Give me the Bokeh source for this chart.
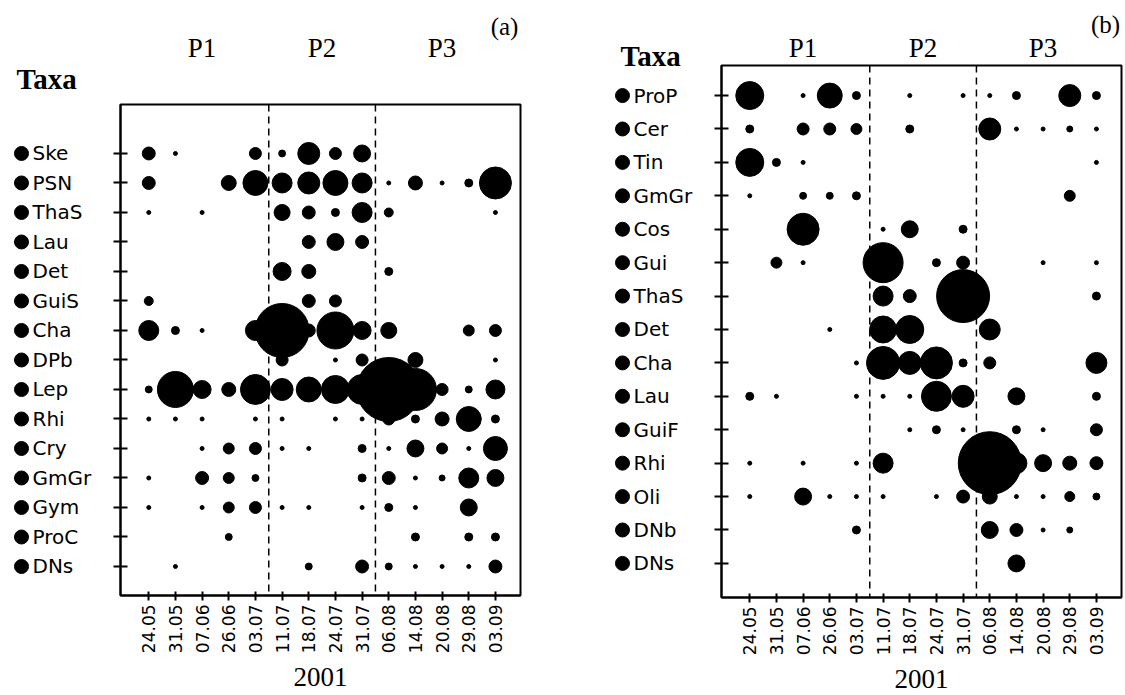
import math
from bokeh.plotting import figure
from bokeh.models import FixedTicker, Span, ColumnDataSource, Range1d
from bokeh.layouts import row, column
from bokeh.core.properties import value
from bokeh.embed import file_html
from bokeh.resources import INLINE

# ---------------- data ----------------
dates = ["24.05", "31.05", "07.06", "26.06", "03.07", "11.07", "18.07",
         "24.07", "31.07", "06.08", "14.08", "20.08", "29.08", "03.09"]
year_label = "2001"
periods = ["P1", "P2", "P3"]
period_last_date = [5, 9, 14]          # last sampling date (1-based) of each period

taxa_a = ["Ske", "PSN", "ThaS", "Lau", "Det", "GuiS", "Cha", "DPb",
          "Lep", "Rhi", "Cry", "GmGr", "Gym", "ProC", "DNs"]
values_a = [
    [42, 4, 0, 0, 36, 12, 121, 36, 72, 0, 0, 0, 0, 0],            # Ske
    [42, 0, 0, 56, 156, 100, 121, 156, 100, 4, 49, 4, 16, 256],   # PSN
    [4, 0, 4, 0, 0, 64, 42, 16, 100, 20, 0, 0, 0, 4],             # ThaS
    [0, 0, 0, 0, 0, 0, 42, 72, 42, 0, 0, 0, 0, 0],                # Lau
    [0, 0, 0, 0, 0, 81, 49, 0, 0, 16, 0, 0, 0, 0],                # Det
    [20, 0, 0, 0, 0, 0, 42, 36, 0, 0, 0, 0, 0, 0],                # GuiS
    [100, 16, 4, 0, 100, 729, 42, 342, 81, 64, 0, 0, 30, 36],     # Cha
    [0, 0, 0, 0, 0, 36, 0, 4, 36, 0, 56, 0, 0, 4],                # DPb
    [12, 324, 81, 49, 225, 121, 156, 196, 225, 1024, 441, 36, 12, 90],  # Lep
    [4, 4, 4, 0, 4, 4, 0, 4, 4, 36, 16, 49, 156, 16],             # Rhi
    [0, 0, 4, 30, 36, 4, 4, 0, 16, 4, 72, 30, 4, 144],            # Cry
    [4, 0, 42, 30, 12, 0, 0, 0, 16, 42, 4, 9, 100, 72],           # GmGr
    [4, 0, 4, 30, 36, 4, 4, 0, 4, 16, 4, 0, 72, 0],               # Gym
    [0, 0, 0, 12, 0, 0, 0, 0, 0, 0, 16, 0, 16, 16],               # ProC
    [0, 4, 0, 0, 0, 0, 12, 0, 42, 12, 4, 4, 4, 42],               # DNs
]

taxa_b = ["ProP", "Cer", "Tin", "GmGr", "Cos", "Gui", "ThaS", "Det",
          "Cha", "Lau", "GuiF", "Rhi", "Oli", "DNb", "DNs"]
values_b = [
    [196, 0, 4, 156, 16, 0, 4, 0, 4, 4, 16, 0, 121, 16],          # ProP
    [16, 0, 36, 36, 30, 0, 16, 0, 0, 121, 4, 4, 9, 4],            # Cer
    [196, 16, 4, 0, 0, 0, 0, 0, 0, 0, 0, 0, 0, 4],                # Tin
    [4, 0, 12, 12, 16, 0, 0, 0, 0, 0, 0, 0, 30, 0],               # GmGr
    [0, 0, 256, 0, 0, 4, 72, 0, 16, 0, 0, 0, 0, 0],               # Cos
    [0, 30, 4, 0, 0, 400, 0, 16, 42, 0, 0, 4, 0, 4],              # Gui
    [0, 0, 0, 0, 0, 100, 42, 0, 702, 0, 0, 0, 0, 16],             # ThaS
    [0, 0, 0, 4, 0, 182, 196, 0, 0, 110, 0, 0, 0, 0],             # Det
    [0, 0, 0, 0, 4, 272, 132, 256, 16, 36, 0, 0, 0, 110],         # Cha
    [16, 4, 0, 0, 4, 4, 4, 225, 121, 0, 72, 0, 0, 16],            # Lau
    [0, 0, 0, 0, 0, 0, 4, 16, 4, 0, 16, 4, 0, 36],                # GuiF
    [4, 0, 4, 0, 4, 100, 0, 0, 0, 992, 110, 72, 49, 42],          # Rhi
    [4, 0, 72, 4, 4, 4, 0, 4, 42, 56, 4, 4, 25, 12],              # Oli
    [0, 0, 0, 0, 16, 0, 0, 0, 0, 72, 42, 4, 9, 0],                # DNb
    [0, 0, 0, 0, 0, 0, 0, 0, 0, 0, 72, 0, 0, 0],                  # DNs
]

SERIF = "Liberation Serif"
SANS = "DejaVu Sans"
H = 695
AX_BORDER = 14          # room for the left-axis ticks inside the main figure
FRAME_W = 400
X0, X1 = -0.06, 14.94


def blank(width, height, xr, yr, bl=0, br=0):
    f = figure(width=width, height=height, x_range=xr, y_range=yr, title=None,
               output_backend="svg", toolbar_location=None,
               x_axis_location=None, y_axis_location=None,
               min_border_left=bl, min_border_right=br, min_border_top=0, min_border_bottom=0)
    f.xgrid.visible = False
    f.ygrid.visible = False
    f.outline_line_color = None
    f.background_fill_color = "white"
    f.border_fill_color = "white"
    return f


def make_panel(taxa, values, tag, lab_w, frame_top, frame_bottom, right_border,
               y_range, taxa_y, tag_y, period_y, taxa_dx):
    n = len(taxa)
    ux = FRAME_W / (X1 - X0)
    y0, y1 = y_range
    uy = (frame_bottom - frame_top) / (y1 - y0)

    # ---- main bubble plot ----
    xs, ys, sizes = [], [], []
    for i, rowvals in enumerate(values):
        for j, v in enumerate(rowvals):
            if v > 0:
                xs.append(j + 1)
                ys.append(n - i)
                sizes.append(2.0 * math.sqrt(v))
    src = ColumnDataSource(dict(x=xs, y=ys, s=sizes))

    top_h = frame_top - 2
    main_w = AX_BORDER + FRAME_W + right_border
    p = figure(width=main_w, height=H - top_h, x_range=(X0, X1), y_range=y_range, title=None,
               output_backend="svg", toolbar_location=None,
               min_border_left=AX_BORDER, min_border_right=right_border,
               min_border_top=2, min_border_bottom=H - frame_bottom)
    p.xgrid.visible = False
    p.ygrid.visible = False
    p.outline_line_color = "black"
    p.outline_line_width = 2
    p.background_fill_color = "white"
    p.border_fill_color = "white"

    xa = p.xaxis[0]
    xa.ticker = FixedTicker(ticks=list(range(1, len(dates) + 1)))
    xa.major_label_overrides = {i + 1: d for i, d in enumerate(dates)}
    xa.major_label_orientation = math.pi / 2
    xa.major_label_text_font = SANS
    xa.major_label_text_font_size = "17px"
    xa.major_label_text_color = "black"
    xa.major_label_standoff = 4
    xa.major_tick_in = 4
    xa.major_tick_out = 5
    xa.minor_tick_line_color = None
    xa.axis_line_width = 2
    xa.major_tick_line_width = 2
    xa.axis_label = year_label
    xa.axis_label_text_font = SERIF
    xa.axis_label_text_font_size = "27px"
    xa.axis_label_text_font_style = "normal"
    xa.axis_label_text_color = "black"
    xa.axis_label_standoff = 12

    ya = p.yaxis[0]
    ya.ticker = FixedTicker(ticks=list(range(1, n + 1)))
    ya.major_label_text_color = None
    ya.major_label_standoff = 0
    ya.major_tick_in = 7
    ya.major_tick_out = 7
    ya.minor_tick_line_color = None
    ya.axis_line_width = 2
    ya.major_tick_line_width = 2

    for last in period_last_date[:-1]:
        p.add_layout(Span(location=last + 0.5, dimension="height", line_color="black",
                          line_width=1.5, line_dash="7 5"))

    p.scatter("x", "y", size="s", source=src, marker="circle",
              fill_color="black", line_color="black")

    # ---- label column on the left (same y scale as the main plot) ----
    lab = blank(lab_w, H, Range1d(0, lab_w),
                Range1d(y0 - (H - frame_bottom) / uy, y1 + frame_top / uy))
    fl = lab_w + AX_BORDER              # frame left edge in label-column pixels
    ty = [n - i for i in range(n)]
    lab.scatter(x=[fl - 99] * n, y=ty, size=14, marker="circle",
                fill_color="black", line_color="black")
    lab.text(x=[fl - 88] * n, y=ty, text=taxa, text_font=value(SANS),
             text_font_size=value("20px"), text_align="left", text_baseline="middle",
             text_color="black")
    lab.text(x=[fl + taxa_dx], y=[y1 + (frame_top - taxa_y) / uy], text=["Taxa"],
             text_font=value(SERIF), text_font_size=value("29px"), text_font_style="bold",
             text_align="left", text_baseline="middle", text_color="black")

    # ---- header strip above the main plot (frame aligned with the main plot) ----
    top = blank(main_w, top_h, Range1d(X0, X1), Range1d(top_h, 0),
                bl=AX_BORDER, br=right_border)
    centers, start = [], 1
    for last in period_last_date:
        centers.append((start + last) / 2.0)
        start = last + 1
    top.text(x=centers, y=[period_y] * len(periods), text=periods, text_font=value(SERIF),
             text_font_size=value("27px"), text_align="center", text_baseline="middle",
             text_color="black")
    top.text(x=[X0 + 384 / ux], y=[tag_y], text=[tag], text_font=value(SERIF),
             text_font_size=value("25px"), text_align="center", text_baseline="middle",
             text_color="black")

    return row(lab, column(top, p, spacing=0), spacing=0)


panel_a = make_panel(taxa_a, values_a, "(a)", 106, 104, 595, 40, (0.017, 16.66),
                     taxa_y=78, tag_y=26, period_y=47, taxa_dx=-104)
panel_b = make_panel(taxa_b, values_b, "(b)", 147, 65, 597, 4, (-0.02, 15.9),
                     taxa_y=55, tag_y=24, period_y=47, taxa_dx=-101)

layout = row(panel_a, panel_b, spacing=0)
open("out.html", "w").write(file_html(layout, INLINE))
